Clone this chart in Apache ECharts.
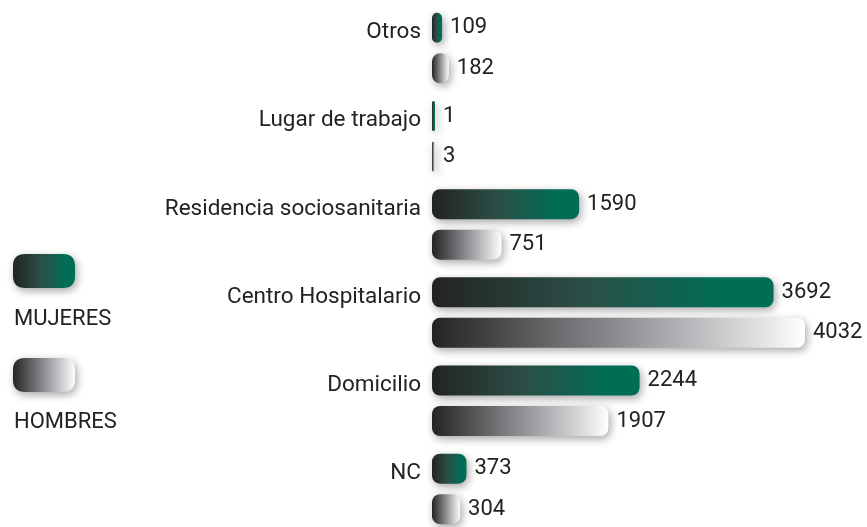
<!DOCTYPE html>
<html>
<head>
<meta charset="utf-8">
<script src="https://cdn.jsdelivr.net/npm/echarts@6/dist/echarts.min.js"></script>
<style>
  html, body { margin: 0; padding: 0; background: #fff; }
  #chart { width: 867px; height: 527px; }
</style>
</head>
<body>
<div id="chart"></div>
<script>
const categories = ['Otros', 'Lugar de trabajo', 'Residencia sociosanitaria', 'Centro Hospitalario', 'Domicilio', 'NC'];
const mujeres = [109, 1, 1590, 3692, 2244, 373];
const hombres = [182, 3, 751, 4032, 1907, 304];
const seriesNames = ['MUJERES', 'HOMBRES'];

function gradient(stops) {
  return new echarts.graphic.LinearGradient(0, 0, 1, 0, stops.map(s => ({ offset: s[0], color: s[1] })));
}

const greenFill = gradient([[0, '#232323'], [0.45, '#2b4f47'], [0.85, '#006e55'], [1, '#006e55']]);
const grayFill = gradient([[0, '#232323'], [0.5, '#8d8e92'], [0.9, '#e6e6e8'], [1, '#ffffff']]);

const shadow = {
  shadowBlur: 8,
  shadowColor: 'rgba(0,0,0,0.35)',
  shadowOffsetX: 2,
  shadowOffsetY: 3,
};

function makeSeries(name, data, fill) {
  return {
    name,
    type: 'bar',
    data,
    barWidth: 30,
    barGap: '35%',
    barMinHeight: 3,
    itemStyle: Object.assign({ color: fill, borderRadius: 8 }, shadow),
    label: {
      show: true,
      position: 'right',
      distance: 8,
      color: '#222',
      fontFamily: 'Roboto',
      fontSize: 22,
    },
  };
}

const chart = echarts.init(document.getElementById('chart'));
chart.setOption({
  animation: false,
  grid: { left: 432, right: 62, top: 4, height: 529, outerBoundsMode: 'none', containLabel: false },
  legend: {
    orient: 'vertical',
    left: 13,
    top: 254,
    padding: 0,
    itemWidth: 62,
    itemHeight: 34,
    itemGap: 70,
    icon: 'path://M12,0 L50,0 Q62,0 62,12 L62,22 Q62,34 50,34 L12,34 Q0,34 0,22 L0,12 Q0,0 12,0 Z',
    formatter: () => '',
    itemStyle: shadow,
    data: seriesNames,
  },
  graphic: [
    { type: 'text', left: 14, top: 308, style: { text: 'MUJERES', font: '22px Roboto', fill: '#222' } },
    { type: 'text', left: 14, top: 411, style: { text: 'HOMBRES', font: '22px Roboto', fill: '#222' } },
  ],
  xAxis: {
    type: 'value',
    min: 0,
    max: 'dataMax',
    show: false,
  },
  yAxis: {
    type: 'category',
    data: categories,
    inverse: true,
    axisLine: { show: false },
    axisTick: { show: false },
    axisLabel: {
      margin: 11,
      color: '#222',
      fontFamily: 'Roboto',
      fontSize: 22.5,
      verticalAlign: 'bottom',
      lineHeight: 31,
    },
  },
  series: [
    makeSeries(seriesNames[0], mujeres, greenFill),
    makeSeries(seriesNames[1], hombres, grayFill),
  ],
});
</script>
</body>
</html>
